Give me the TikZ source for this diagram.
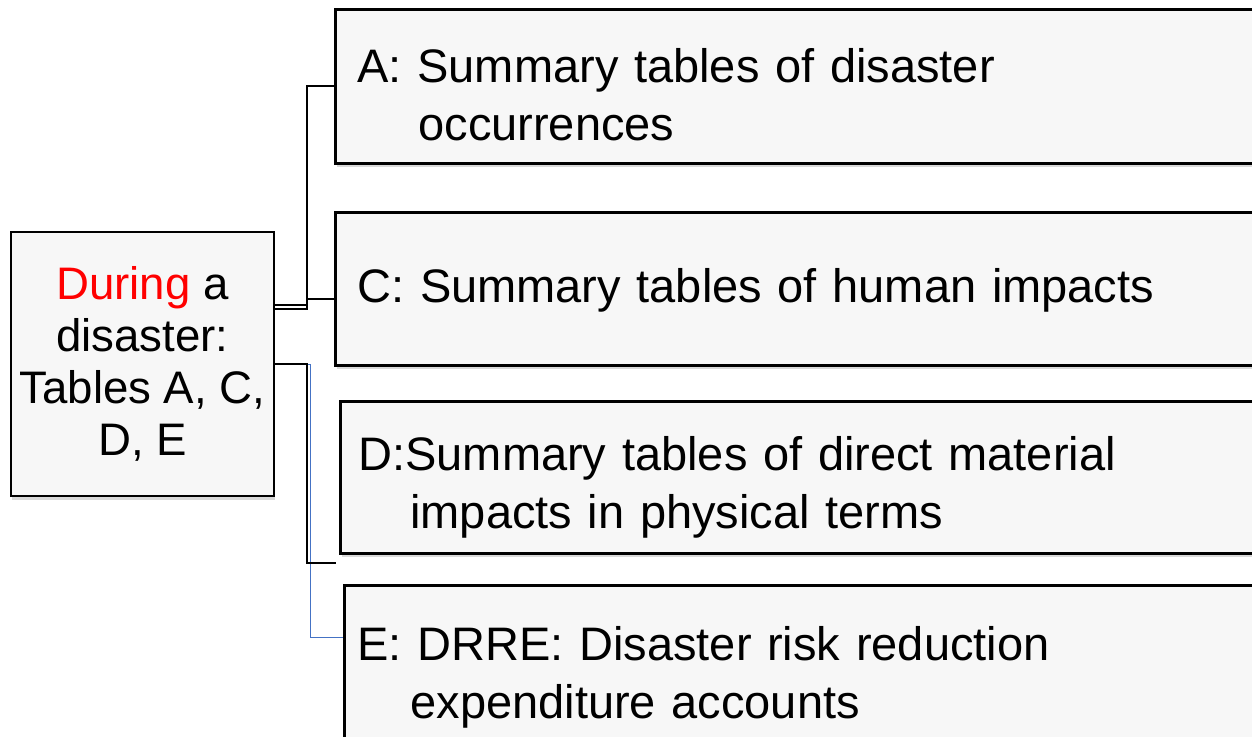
\documentclass[tikz,border=0pt]{standalone}
\usepackage{fontspec}
\setmainfont{Liberation Sans}
\usetikzlibrary{positioning, shadows}
\definecolor{boxgray}{HTML}{F7F7F7}
\definecolor{linkblue}{HTML}{4472C4}

\begin{document}
\begin{tikzpicture}[
      x=0.5pt, y=-0.5pt,
      % Node styles
      tablebox/.style={
          draw, line width=1.3pt, fill=boxgray, anchor=north west,
          minimum width=500pt, inner sep=0pt,
          drop shadow={shadow xshift=0.6pt, shadow yshift=-1.8pt, opacity=0.3},
        },
      stagebox/.style={
          draw, line width=1pt, fill=boxgray, anchor=north west,
          minimum width=131.5pt, minimum height=132pt, inner sep=0pt,
          align=center, font=\fontsize{22.8pt}{26pt}\selectfont,
          drop shadow={shadow xshift=0.6pt, shadow yshift=-1.8pt, opacity=0.3},
        },
      boxtext/.style={
          anchor=base west, align=left, text width=440pt, inner sep=0pt,
          font=\fontsize{23.5pt}{29pt}\selectfont,
        },
      % Connector styles
      conn/.style={draw, line width=0.9pt},
      thinconn/.style={draw, line width=0.5pt, linkblue},
    ]
    \useasboundingbox (0,0) rectangle (1252,736);

    % --- Boxes ---
    \node[stagebox] (lbox) at (10,231)
      {\textcolor{red}{During} a\\disaster:\\Tables A, C,\\D, E};
    \node[tablebox, minimum height=77pt] (Abox) at (334,8) {};
    \node[tablebox, minimum height=76.5pt] (Cbox) at (334,211) {};
    \node[tablebox, minimum height=76pt] (Dbox) at (339,400) {};
    \node[tablebox, minimum height=77pt] (Ebox) at (343,584) {};

    % --- Texts in the boxes ---
    \node[boxtext] (Atext) at ([shift={(23,74)}]Abox.north west)
      {A: Summary tables of disaster\\\hspace*{30.5pt}occurrences};
    \node[boxtext] (Ctext) at ([shift={(23,91)}]Cbox.north west)
      {C: Summary tables of human impacts};
    \node[boxtext] (Dtext) at ([shift={(19,70)}]Dbox.north west)
      {D:Summary tables of direct material\\\hspace*{26pt}impacts in physical terms};
    \node[boxtext] (Etext) at ([shift={(14,76)}]Ebox.north west)
      {E: DRRE: Disaster risk reduction\\\hspace*{26.5pt}expenditure accounts};

    % --- Connectors ---
    \draw[thinconn] (lbox.east) -- ++(35,0) |- ([yshift=12.5pt]Ebox.west);
    \draw[conn] ([yshift=27.5pt]lbox.east) -- ++(32,0) |- (Abox.west);
    \draw[conn] ([yshift=29.5pt]lbox.east) -- ++(32,0) |- ([yshift=-5.25pt]Cbox.west);
    \draw[conn] (lbox.east) -- ++(32,0) |- ([shift={(-3,8)}]Dbox.south west);
\end{tikzpicture}
\end{document}
